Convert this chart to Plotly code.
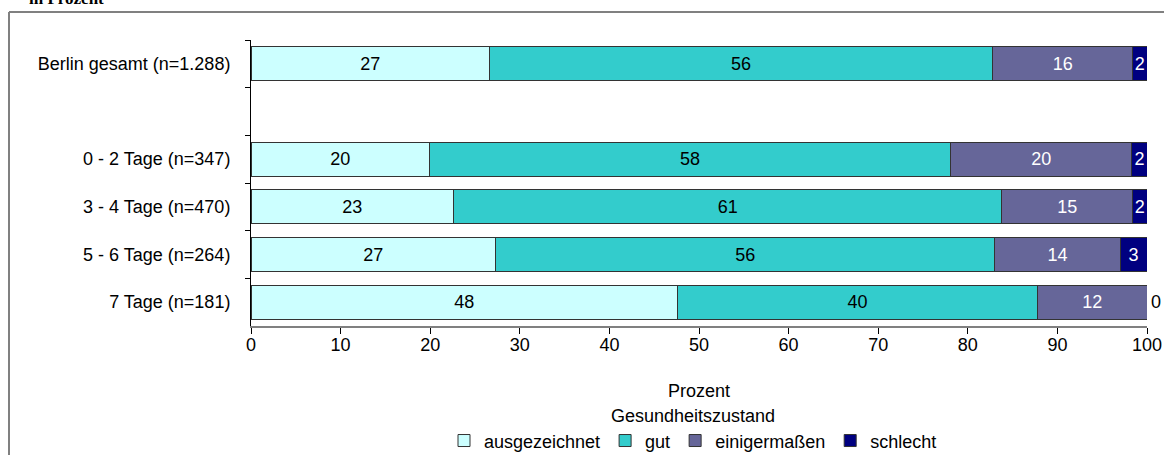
import plotly.graph_objects as go

# Categories (top to bottom); " " is the empty spacer row
categories = ["Berlin gesamt (n=1.288)", " ", "0 - 2 Tage (n=347)", "3 - 4 Tage (n=470)",
              "5 - 6 Tage (n=264)", "7 Tage (n=181)"]

ausgezeichnet = [26.6, None, 19.9, 22.6, 27.3, 47.6]
gut = [56.2, None, 58.2, 61.2, 55.7, 40.2]
einigermassen = [15.6, None, 20.2, 14.6, 14.0, 12.2]
schlecht = [1.6, None, 1.7, 1.6, 3.0, 0.0]

series_names = ["ausgezeichnet", "gut", "einigermaßen", "schlecht"]
series_values = [ausgezeichnet, gut, einigermassen, schlecht]
colors = ["#CCFFFF", "#33CCCC", "#666699", "#000080"]
text_colors = ["#000000", "#000000", "#FFFFFF", "#FFFFFF"]

x_ticks = [0, 10, 20, 30, 40, 50, 60, 70, 80, 90, 100]

FONT = "Liberation Sans, Arial, sans-serif"
FS = 18
W, H = 1164, 455
ML, MR, MT, MB = 251, 17, 40, 129
PW, PH = W - ML - MR, H - MT - MB


def px_x(p):
    return (p - ML) / PW


def px_y(p):
    return (H - MB - p) / PH


fig = go.Figure()
for name, vals, col, tcol in zip(series_names, series_values, colors, text_colors):
    texts = ["" if (v is None or v == 0) else f"{v:.0f}" for v in vals]
    fig.add_trace(go.Bar(
        name=name,
        y=categories,
        x=vals,
        orientation="h",
        marker=dict(color=col, line=dict(color="#333333", width=1)),
        text=texts,
        textposition="inside",
        insidetextanchor="middle",
        textangle=0,
        insidetextfont=dict(family=FONT, size=FS, color=tcol),
        hoverinfo="skip",
    ))

# Zero-valued segments: label "0" just right of the stacked bar end
for i, cat in enumerate(categories):
    if schlecht[i] is not None and schlecht[i] == 0:
        total = sum(s[i] for s in series_values)
        fig.add_annotation(
            x=total, y=cat, xref="x", yref="y",
            text=f"{schlecht[i]:.0f}",
            xanchor="left", xshift=2, showarrow=False,
            font=dict(family=FONT, size=FS, color="#000000"),
        )

fig.update_layout(
    width=W,
    height=H,
    barmode="stack",
    bargap=0.28,
    paper_bgcolor="white",
    plot_bgcolor="white",
    margin=dict(l=ML, r=MR, t=MT, b=MB, autoexpand=False),
    font=dict(family=FONT, size=FS, color="#000000"),
    uniformtext=dict(minsize=FS, mode="show"),
    showlegend=True,
    legend=dict(
        orientation="h",
        x=0.5 - 6 / PW, xanchor="center",
        y=-0.255, yanchor="top",
        title=dict(text="Gesundheitszustand", side="top center",
                   font=dict(family=FONT, size=FS)),
        font=dict(family=FONT, size=FS),
        traceorder="normal",
        itemwidth=30,
    ),
    xaxis=dict(
        range=[0, 100],
        tickvals=x_ticks,
        ticktext=[str(t) for t in x_ticks],
        ticks="outside",
        ticklen=6,
        tickcolor="#000000",
        showline=True,
        linecolor="#808080",
        linewidth=2,
        showgrid=False,
        zeroline=False,
        automargin=False,
        ticklabelstandoff=-5,
        title=dict(text="Prozent", standoff=31, font=dict(family=FONT, size=FS)),
    ),
    yaxis=dict(
        type="category",
        categoryorder="array",
        categoryarray=categories,
        range=[5.5, -0.5],
        ticks="outside",
        tickson="boundaries",
        ticklen=5,
        tickcolor="#000000",
        showline=True,
        linecolor="#000000",
        linewidth=1,
        showgrid=False,
        zeroline=False,
        automargin=False,
        ticklabelstandoff=16,
    ),
)

# Cropped chart title at the very top
fig.add_annotation(
    text="<b>in Prozent</b>",
    xref="paper", yref="paper",
    x=px_x(27), y=px_y(10),
    xanchor="left", yanchor="bottom",
    showarrow=False,
    font=dict(family="Liberation Serif, Times New Roman, serif", size=17, color="#000000"),
)

# Outer frame (left and top edges visible), kept inside the page
frame = dict(color="#808080", width=2)
fig.add_shape(type="line", xref="paper", yref="paper",
              x0=px_x(9), x1=px_x(9), y0=px_y(H), y1=px_y(12), line=frame)
fig.add_shape(type="line", xref="paper", yref="paper",
              x0=px_x(9), x1=px_x(W), y0=px_y(12), y1=px_y(12), line=frame)

fig.write_html(
    "out.html",
    config={"displayModeBar": False},
    post_script="document.body.style.margin='0';document.documentElement.style.overflow='hidden';",
)
